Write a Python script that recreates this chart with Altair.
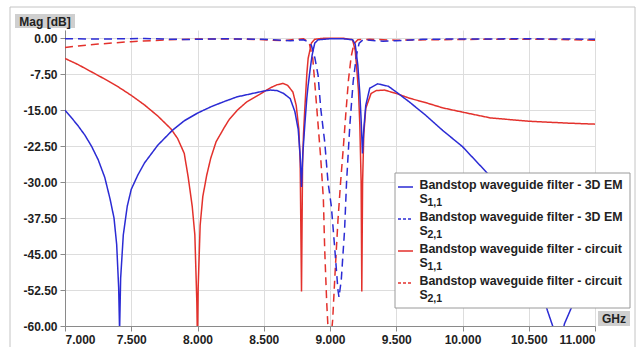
import altair as alt
import pandas as pd

# --- Bandstop waveguide filter, 3D EM vs circuit model (frequency in GHz, magnitude in dB) ---

em_s11_f = [7.00, 7.05, 7.10, 7.15, 7.20, 7.25, 7.30, 7.34, 7.37, 7.39, 7.405, 7.412, 7.42, 7.44,
            7.47, 7.50, 7.55, 7.60, 7.70, 7.81, 7.90, 8.00, 8.10, 8.20, 8.30, 8.40, 8.50, 8.55,
            8.60, 8.65, 8.70, 8.735, 8.76, 8.775, 8.785, 8.795, 8.81, 8.825, 8.835, 8.85, 8.865,
            8.885, 8.91, 9.00, 9.10, 9.17, 9.19, 9.21, 9.225, 9.235, 9.245, 9.255, 9.27, 9.30,
            9.36, 9.44, 9.50, 9.60, 9.72, 9.85, 10.00, 10.19, 10.35, 10.50, 10.64, 10.73, 10.77,
            10.82, 10.90, 11.00]
em_s11_db = [-15.0, -16.6, -18.3, -20.2, -22.5, -25.3, -29.0, -33.5, -37.5, -43.0, -52.0, -61.0,
             -50.0, -41.0, -35.0, -31.5, -28.5, -26.0, -22.3, -19.2, -17.2, -15.6, -14.3, -13.2,
             -12.2, -11.6, -11.0, -10.8, -10.9, -11.5, -12.6, -15.3, -19.0, -24.5, -31.0, -24.0,
             -18.0, -12.5, -9.8, -6.5, -3.5, -1.0, -0.3, -0.1, -0.1, -0.3, -1.2, -5.6, -11.5,
             -17.0, -24.0, -19.0, -14.0, -10.4, -9.5, -10.0, -11.2, -13.3, -16.0, -19.2, -22.6,
             -28.2, -35.0, -43.5, -56.7, -64.0, -59.5, -56.3, -50.0, -44.0]

em_s21_f = [7.00, 7.30, 7.60, 7.90, 8.20, 8.50, 8.70, 8.80, 8.84, 8.86, 8.885, 8.91, 8.93, 8.96,
            8.985, 9.01, 9.035, 9.06, 9.068, 9.085, 9.11, 9.125, 9.15, 9.175, 9.20, 9.22, 9.25,
            9.40, 9.50, 9.70, 10.00, 10.50, 11.00]
em_s21_db = [-0.1, -0.15, -0.05, -0.25, -0.1, -0.2, -0.5, -0.3, -0.8, -1.5, -4.0, -7.7, -14.6,
             -21.6, -30.0, -35.0, -43.5, -52.5, -54.0, -50.4, -40.0, -30.0, -18.0, -9.0, -3.5,
             -1.0, -0.3, -0.6, -0.5, -0.2, -0.15, -0.1, -0.2]

cir_s11_f = [7.00, 7.10, 7.20, 7.30, 7.40, 7.50, 7.60, 7.70, 7.80, 7.85, 7.90, 7.93, 7.96, 7.98,
             7.995, 8.00, 8.005, 8.02, 8.04, 8.07, 8.10, 8.14, 8.20, 8.24, 8.30, 8.37, 8.45, 8.51,
             8.56, 8.60, 8.645, 8.68, 8.72, 8.745, 8.765, 8.775, 8.785, 8.793, 8.80, 8.81, 8.825,
             8.835, 8.86, 8.885, 8.95, 9.10, 9.17, 9.19, 9.20, 9.215, 9.225, 9.235, 9.24, 9.246,
             9.255, 9.27, 9.31, 9.35, 9.41, 9.50, 9.60, 9.72, 9.85, 10.00, 10.21, 10.50, 10.80,
             11.00]
cir_s11_db = [-4.2, -5.5, -7.0, -8.5, -10.1, -11.9, -13.9, -16.2, -18.9, -20.9, -24.0, -29.0,
              -35.0, -41.0, -55.0, -64.0, -52.0, -39.0, -33.0, -28.5, -25.0, -21.6, -18.7, -16.9,
              -15.0, -13.3, -12.0, -11.0, -10.2, -9.7, -9.4, -9.8, -11.2, -14.0, -19.0, -26.0,
              -52.8, -26.0, -20.0, -14.6, -7.5, -4.2, -1.0, -0.2, 0.0, 0.0, -0.3, -2.5, -5.6,
              -11.0, -18.0, -30.0, -52.8, -30.0, -20.0, -14.6, -11.5, -10.9, -10.8, -11.5, -12.5,
              -13.4, -14.5, -15.4, -16.6, -17.3, -17.7, -17.9]

cir_s21_f = [7.00, 7.10, 7.25, 7.50, 7.75, 8.00, 8.30, 8.50, 8.65, 8.75, 8.80, 8.83, 8.845, 8.87,
             8.89, 8.91, 8.93, 8.95, 8.96, 8.975, 8.99, 9.005, 9.02, 9.04, 9.06, 9.08, 9.10, 9.12,
             9.14, 9.16, 9.18, 9.21, 9.30, 9.50, 9.80, 10.20, 10.60, 11.00]
cir_s21_db = [-1.9, -1.6, -1.2, -0.7, -0.35, -0.15, -0.15, -0.3, -0.5, -0.2, -0.1, -0.6, -1.2,
              -4.2, -11.0, -18.0, -25.0, -33.5, -44.0, -55.0, -63.0, -63.0, -58.8, -48.0, -38.0,
              -30.0, -23.0, -15.5, -8.5, -3.8, -1.2, -0.3, -0.2, -0.4, -0.3, -0.2, -0.2, -0.4]

series_names = ["circuit S21", "circuit S11", "3D EM S21", "3D EM S11"]
series_colors = ["#e3312c", "#e3312c", "#2b2bd4", "#2b2bd4"]
series_dash = [[8, 5], [1, 0], [8, 5], [1, 0]]

legend_titles = ["Bandstop waveguide filter - 3D EM", "Bandstop waveguide filter - 3D EM",
                 "Bandstop waveguide filter - circuit", "Bandstop waveguide filter - circuit"]
legend_subs = ["1,1", "2,1", "1,1", "2,1"]
legend_colors = ["#2b2bd4", "#2b2bd4", "#e3312c", "#e3312c"]
legend_dashed = [False, True, False, True]

x_ticks = [7.0, 7.5, 8.0, 8.5, 9.0, 9.5, 10.0, 10.5, 11.0]
y_ticks = [-60.0, -52.5, -45.0, -37.5, -30.0, -22.5, -15.0, -7.5, 0.0]

frames = []
for name, f, db in [("circuit S21", cir_s21_f, cir_s21_db),
                    ("circuit S11", cir_s11_f, cir_s11_db),
                    ("3D EM S21", em_s21_f, em_s21_db),
                    ("3D EM S11", em_s11_f, em_s11_db)]:
    frames.append(pd.DataFrame({"f": f, "db": db, "series": name}))
data = pd.concat(frames, ignore_index=True)

# one-row table for decorations (frame, captions, legend)
one = pd.DataFrame({"k": [0]})

W, H = 530, 296
FONT = "Liberation Sans"

xscale = alt.Scale(domain=[7, 11], nice=False, zero=False)
yscale = alt.Scale(domain=[-60, 1.73], nice=False, zero=False)

minus_fix = "replace(format(datum.value, '{fmt}'), '\u2212', '-')"

lines = alt.Chart(data).mark_line(clip=True, strokeWidth=1.5).encode(
    x=alt.X("f:Q", scale=xscale,
            axis=alt.Axis(values=x_ticks, title=None, grid=True,
                          labelExpr=minus_fix.format(fmt=".3f"))),
    y=alt.Y("db:Q", scale=yscale,
            axis=alt.Axis(values=y_ticks, title=None, grid=True,
                          labelExpr=minus_fix.format(fmt=".2f"))),
    color=alt.Color("series:N", scale=alt.Scale(domain=series_names, range=series_colors),
                    legend=None),
    strokeDash=alt.StrokeDash("series:N",
                              scale=alt.Scale(domain=series_names, range=series_dash),
                              legend=None),
    detail="series:N",
    order=alt.Order("f:Q"),
)

# frame around the whole figure
frame = alt.Chart(one).mark_rect(fill=None, stroke="#c4c4c4", strokeWidth=1).encode(
    x=alt.value(-55), x2=alt.value(570), y=alt.value(-23), y2=alt.value(340)
)

# axis caption boxes
mag_box = alt.Chart(one).mark_rect(fill="#cfcfcf").encode(
    x=alt.value(-50), x2=alt.value(10), y=alt.value(-16), y2=alt.value(-2)
)
mag_txt = alt.Chart(one).mark_text(font=FONT, fontSize=12, fontWeight="bold",
                                   color="#222", align="center", baseline="middle").encode(
    x=alt.value(-20), y=alt.value(-8.5), text=alt.value("Mag [dB]")
)
ghz_box = alt.Chart(one).mark_rect(fill="#cfcfcf").encode(
    x=alt.value(533), x2=alt.value(565), y=alt.value(281), y2=alt.value(296)
)
ghz_txt = alt.Chart(one).mark_text(font=FONT, fontSize=12, fontWeight="bold",
                                   color="#222", align="center", baseline="middle").encode(
    x=alt.value(549), y=alt.value(288.5), text=alt.value("GHz")
)

# legend
legend_layers = [
    alt.Chart(one).mark_rect(fill="white", stroke="#9a9a9a", strokeWidth=1).encode(
        x=alt.value(330), x2=alt.value(565), y=alt.value(143), y2=alt.value(278)
    )
]
for i in range(4):
    y0 = 155 + 32 * i
    legend_layers.append(
        alt.Chart(one).mark_rule(color=legend_colors[i], strokeWidth=1.5,
                                 strokeDash=[3, 2] if legend_dashed[i] else [1, 0]).encode(
            x=alt.value(333), x2=alt.value(348), y=alt.value(y0 + 2), y2=alt.value(y0 + 2)
        )
    )
    legend_layers.append(
        alt.Chart(one).mark_text(font=FONT, fontSize=12.4, fontWeight="bold", color="#222",
                                 align="left", baseline="middle").encode(
            x=alt.value(354.5), y=alt.value(y0), text=alt.value(legend_titles[i])
        )
    )
    legend_layers.append(
        alt.Chart(one).mark_text(font=FONT, fontSize=12.4, fontWeight="bold", color="#222",
                                 align="left", baseline="middle").encode(
            x=alt.value(354.5), y=alt.value(y0 + 14), text=alt.value("S")
        )
    )
    legend_layers.append(
        alt.Chart(one).mark_text(font=FONT, fontSize=10.5, fontWeight="bold", color="#222",
                                 align="left", baseline="middle").encode(
            x=alt.value(362.5), y=alt.value(y0 + 17.5), text=alt.value(legend_subs[i])
        )
    )

chart = alt.layer(frame, lines, mag_box, mag_txt, ghz_box, ghz_txt, *legend_layers).properties(
    width=W, height=H,
    padding={"left": 65, "top": 30, "right": 42, "bottom": 21},
    autosize=alt.AutoSizeParams(type="none"),
    background="white",
).configure_view(stroke=None).configure_axis(
    labelFont=FONT, labelFontSize=12, labelFontWeight="bold", labelColor="#1e1e1e",
    domainColor="#8a8a8a", tickColor="#8a8a8a", tickSize=5, gridColor="#dddddd",
    labelPadding=3,
)

chart.save("out.html", embed_options={"renderer": "svg", "actions": False})
